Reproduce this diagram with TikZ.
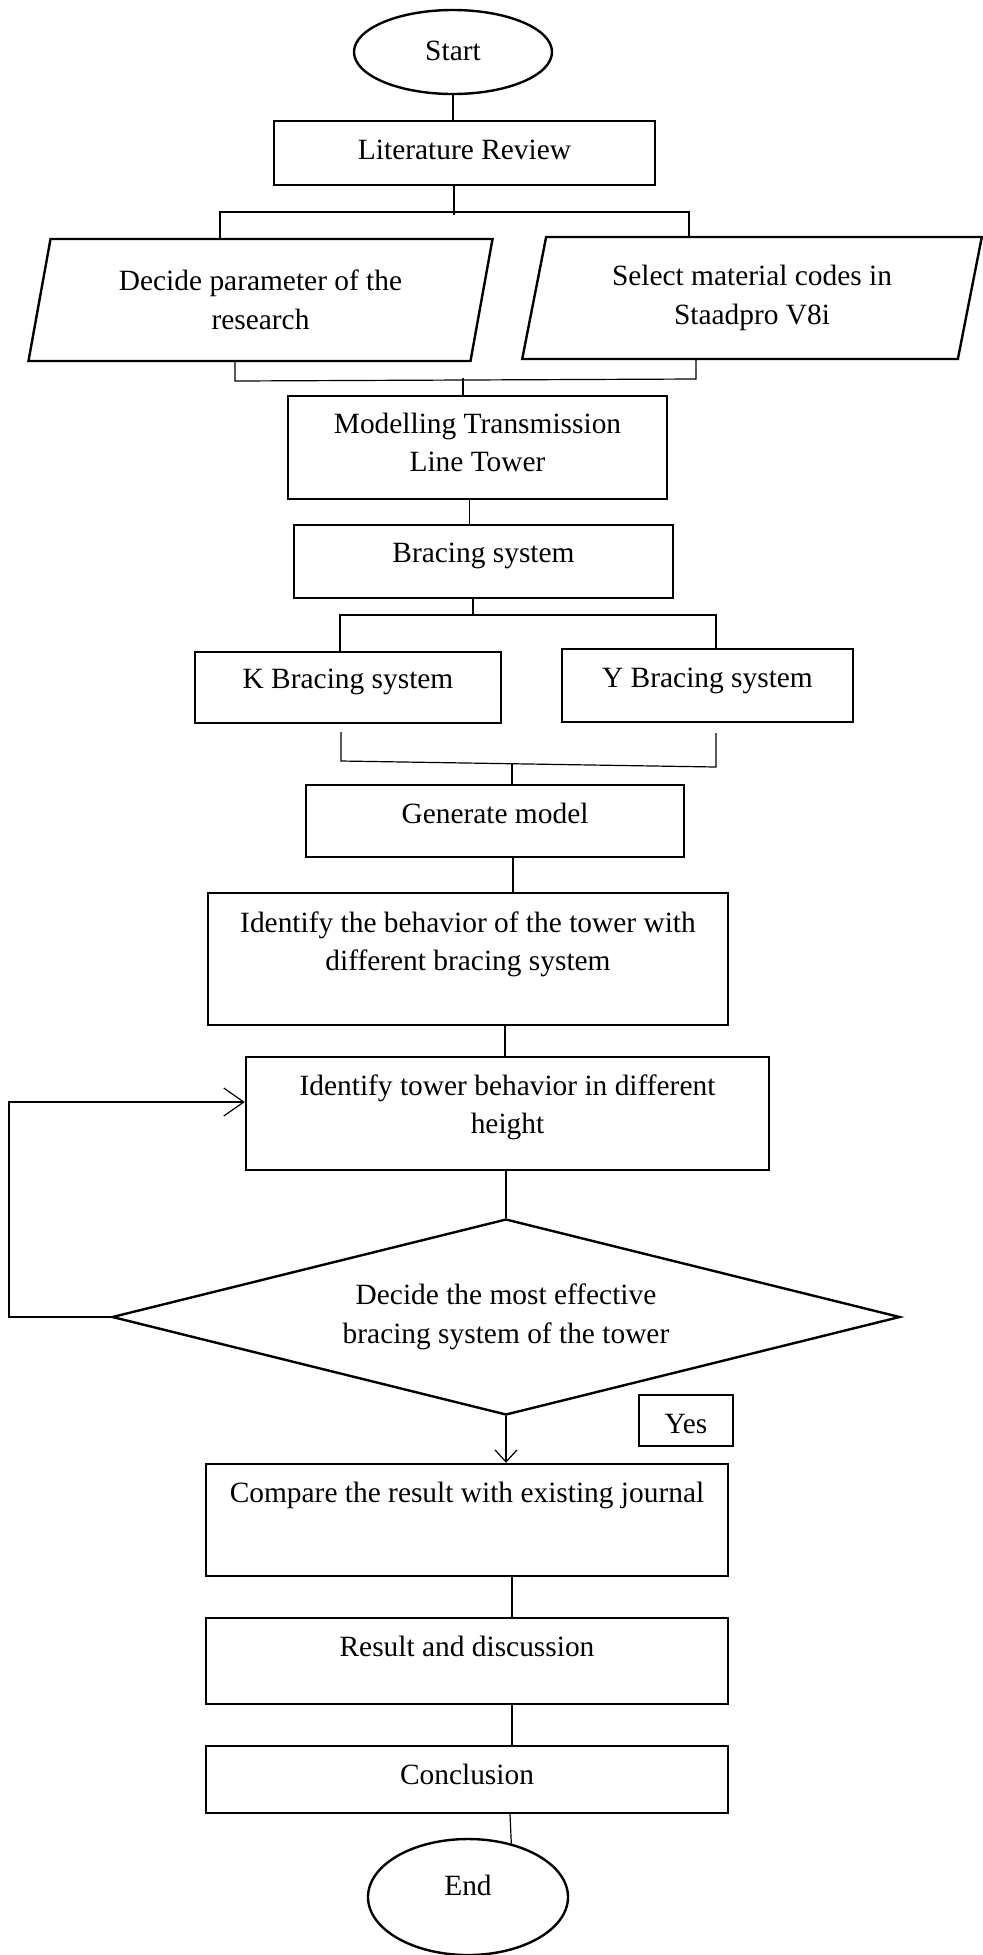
\documentclass[tikz,border=0pt]{standalone}
\usepackage{fontspec}
\setmainfont{Liberation Serif}
\usetikzlibrary{shapes.geometric, arrows.meta}
\tikzset{>={Straight Barb[length=6pt,width=11pt]}}

\begin{document}
\begin{tikzpicture}[x=0.5pt, y=-0.5pt,
    font=\fontsize{14.7}{19.3}\selectfont,
    box/.style={draw, line width=1.2pt, rectangle, inner sep=0pt, align=center},
    para/.style={draw, line width=1.2pt, trapezium, trapezium left angle=76,
        trapezium right angle=104, trapezium stretches=true, inner sep=0pt, align=center},
    term/.style={draw, line width=1.2pt, ellipse, inner sep=0pt, text height=10pt},
    dec/.style={draw, line width=1.2pt, diamond, aspect=4, inner sep=0pt, align=center},
    tdepth/.style={text height=10pt, text depth=#1},
    link/.style={line width=0.6pt}]
    \useasboundingbox (0,0) rectangle (982,1955);
    % steps
    \node[term, minimum width=99pt, minimum height=42pt, text depth=2pt] (start) at (453,52) {Start};
    \node[box, tdepth=4pt, minimum width=190.5pt, minimum height=32pt] (lit) at (464.5,153) {Literature Review};
    \node[para, minimum width=232.5pt, minimum height=61pt] (decide) at (260.5,300) {Decide parameter of the\\research};
    \node[para, minimum width=230pt, minimum height=61pt] (select) at (752,298) {Select material codes in\\Staadpro V8i};
    \node[box, minimum width=189.5pt, minimum height=51.5pt] (model) at (477.5,447.5) {Modelling Transmission\\Line Tower\rule[-5.3pt]{0pt}{0pt}};
    \node[box, tdepth=9.5pt, minimum width=189.5pt, minimum height=36.5pt] (brace) at (483.5,561.5) {Bracing system};
    \node[box, tdepth=9.5pt, minimum width=153pt, minimum height=35.5pt] (kbr) at (348,687.5) {K Bracing system};
    \node[box, tdepth=8.5pt, minimum width=145.5pt, minimum height=36.5pt] (ybr) at (707.5,685.5) {Y Bracing system};
    \node[box, tdepth=8pt, minimum width=189pt, minimum height=36pt] (gen) at (495,821) {Generate model};
    \node[box, minimum width=260pt, minimum height=66pt] (behav) at (468,959) {Identify the behavior of the tower with\\different bracing system\rule[-17.75pt]{0pt}{0pt}};
    \node[box, minimum width=261.5pt, minimum height=56.5pt] (height) at (507.5,1113.5) {Identify tower behavior in different\\height\rule[-9.25pt]{0pt}{0pt}};
    \node[dec, minimum width=394pt, minimum height=98pt] (dec) at (506,1317) {Decide the most effective\\bracing system of the tower};
    \node[box, text height=12.5pt, text depth=0pt, minimum width=47pt, minimum height=25.5pt] (yes) at (686,1420.5) {Yes};
    \node[box, tdepth=28pt, minimum width=261pt, minimum height=56pt] (comp) at (467,1520) {Compare the result with existing journal};
    \node[box, tdepth=15pt, minimum width=261pt, minimum height=43pt] (result) at (467,1661) {Result and discussion};
    \node[box, tdepth=5.5pt, minimum width=261pt, minimum height=33.5pt] (concl) at (467,1779.5) {Conclusion};
    \node[term, minimum width=100pt, minimum height=58pt, text depth=12pt] (end) at (468,1897) {End};
    % junctions
    \coordinate (sA) at (454,215);
    \coordinate (sL) at (220,212);
    \coordinate (sR) at (689,212);
    \coordinate (mL) at (235,381);
    \coordinate (mR) at (696,379);
    \coordinate (mC) at (463,378);
    \coordinate (bC) at (473,615);
    \coordinate (bL) at (340,615);
    \coordinate (bR) at (716,615);
    \coordinate (kT) at (341,732);
    \coordinate (kB) at (341,761);
    \coordinate (yT) at (716,733);
    \coordinate (yB) at (716,767);
    \coordinate (gC) at (512,764);
    \coordinate (lp) at (9,1102);
    % connectors
    \draw[link] (start) -- (start |- lit.north);
    \draw[link] (lit.south -| sA) -- (sA);
    \draw[link] (decide.north -| sL) |- (sR) -- (sR |- select.north);
    \draw[link] (decide.south -| mL) -- (mL) -- (mR) -- (mR |- select.south);
    \draw[link] (mC) -- (mC |- model.north);
    \draw[link] ([xshift=-4pt]model.south) -- ([xshift=-4pt]model.south |- brace.north);
    \draw[link] (brace.south -| bC) -- (bC);
    \draw[link] (kbr.north -| bL) |- (bR) -- (bR |- ybr.north);
    \draw[link] (kT) -- (kB) -- (yB) -- (yT);
    \draw[link] (gC) -- (gC |- gen.north);
    \draw[link] ([xshift=9pt]gen.south) -- ([xshift=9pt]gen.south |- behav.north);
    \draw[link] ([xshift=18.5pt]behav.south) -- ([xshift=18.5pt]behav.south |- height.north);
    \draw[link] (height.south -| dec.north) -- (dec.north);
    \draw[link, ->] (dec.south) -- (dec.south |- comp.north);
    \draw[link, -{Straight Barb[length=10pt,width=14pt]}] (dec.west) -| (lp) -- (lp -| height.west);
    \draw[link] ([xshift=22.5pt]comp.south) -- ([xshift=22.5pt]comp.south |- result.north);
    \draw[link] ([xshift=22.5pt]result.south) -- ([xshift=22.5pt]result.south |- concl.north);
    \draw[link] ([xshift=21.5pt]concl.south) -- (end.51);
\end{tikzpicture}
\end{document}
